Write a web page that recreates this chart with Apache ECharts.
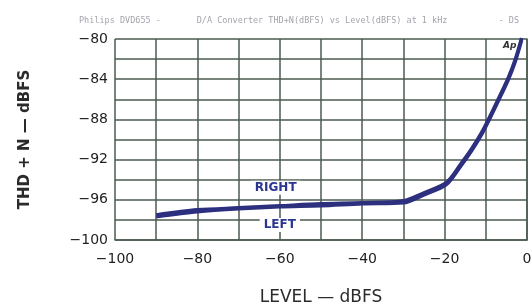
<!DOCTYPE html>
<html style="height: 100%">
<head>
  <meta charset="utf-8">
  <title>THD+N vs Level</title>
  <script src="https://cdn.jsdelivr.net/npm/echarts@6/dist/echarts.min.js"></script>
</head>
<body style="margin: 0; height: 100%; background: #fff">
  <div id="main" style="width: 532px; height: 307px"></div>

  <script>
    // level in dBFS, THD+N in dBFS
    const levels = [-90, -80, -70, -60, -50, -40, -30, -25, -19.6, -16, -13.4, -11, -9, -7, -4.6, -2.9, -1.3];
    const rightThd = [-97.5, -97.0, -96.8, -96.6, -96.4, -96.3, -96.1, -95.3, -94.3, -92.4, -90.9, -89.3, -87.7, -86.0, -83.9, -82.1, -79.9];
    const leftThd = [-97.7, -97.2, -96.9, -96.7, -96.6, -96.4, -96.3, -95.5, -94.5, -92.6, -91.1, -89.5, -87.9, -86.2, -84.1, -82.3, -80.1];
    const xTicks = [-100, -80, -60, -40, -20, 0];
    const yTicks = [-80, -84, -88, -92, -96, -100];

    const chart = echarts.init(document.getElementById('main'));
    const gridColor = '#4b5a4f';
    const inkBlue = '#2d307e';

    const minus = v => (v < 0 ? '\u2212' + Math.abs(v) : String(v));
    const tagLabel = {
      show: true, formatter: '{b}', fontSize: 12, fontWeight: 'bold',
      color: '#2b3690', fontFamily: 'DejaVu Sans',
      backgroundColor: '#fff', padding: [1, 4]
    };

    chart.setOption({
      animation: false,
      title: {
        text: 'Philips DVD655 -       D/A Converter THD+N(dBFS) vs Level(dBFS) at 1 kHz          - DS',
        left: 74,
        top: 11,
        textStyle: { fontSize: 8.5, fontWeight: 'normal', color: '#a3a3ad', fontFamily: 'DejaVu Sans Mono' }
      },
      grid: { left: 115, right: 5, top: 39, bottom: 67, containLabel: false, outerBoundsMode: 'none' },
      xAxis: {
        type: 'value',
        min: -100, max: 0, interval: 10,
        name: 'LEVEL \u2014 dBFS',
        nameLocation: 'middle',
        nameGap: 49,
        nameTextStyle: { fontSize: 17, color: '#2a2a2a', fontFamily: 'DejaVu Sans' },
        axisLine: { lineStyle: { color: gridColor, width: 1.5 } },
        axisTick: { show: false },
        splitLine: { lineStyle: { color: gridColor, width: 1.5 } },
        axisLabel: {
          margin: 12, fontSize: 14, color: '#1e1e1e', fontFamily: 'DejaVu Sans',
          formatter: v => (xTicks.includes(v) ? minus(v) : '')
        }
      },
      yAxis: {
        type: 'value',
        min: -100, max: -80, interval: 2,
        name: 'THD + N \u2014 dBFS',
        nameLocation: 'middle',
        nameGap: 82,
        nameRotate: 90,
        nameTextStyle: { fontSize: 15, fontWeight: 'bold', color: '#2a2a2a', fontFamily: 'DejaVu Sans' },
        axisLine: { lineStyle: { color: gridColor, width: 1.5 } },
        axisTick: { show: false },
        splitLine: { lineStyle: { color: gridColor, width: 1.5 } },
        axisLabel: {
          margin: 7, fontSize: 14, color: '#1e1e1e', fontFamily: 'DejaVu Sans',
          formatter: v => (yTicks.includes(v) ? minus(v) : '')
        }
      },
      series: [
        {
          name: 'RIGHT',
          type: 'line',
          smooth: 0.3,
          symbol: 'none',
          lineStyle: { color: inkBlue, width: 3.5 },
          data: levels.map((x, i) => [x, rightThd[i]]),
          markPoint: {
            symbol: 'rect', symbolSize: 0,
            label: tagLabel,
            data: [{ name: 'RIGHT', coord: [-61, -94.8] }]
          }
        },
        {
          name: 'LEFT',
          type: 'line',
          smooth: 0.3,
          symbol: 'none',
          lineStyle: { color: inkBlue, width: 3.5 },
          data: levels.map((x, i) => [x, leftThd[i]]),
          markPoint: {
            symbol: 'rect', symbolSize: 0,
            label: tagLabel,
            data: [{ name: 'LEFT', coord: [-60, -98.5] }]
          }
        }
      ],
      graphic: [{
        type: 'text',
        left: 503, top: 41,
        style: { text: 'Ap', fontSize: 9, fontStyle: 'italic', fontWeight: 'bold', fill: '#333', fontFamily: 'DejaVu Sans' }
      }]
    });
  </script>
</body>
</html>
